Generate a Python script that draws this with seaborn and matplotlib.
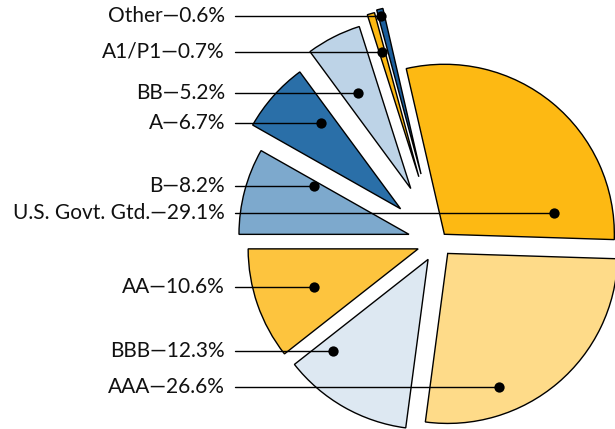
import matplotlib
matplotlib.use("Agg")
import matplotlib.pyplot as plt
import seaborn as sns
import numpy as np

# ---- data ----
categories = ["U.S. Govt. Gtd.", "Other", "A1/P1", "BB", "A", "B", "AA", "BBB", "AAA"]
shares = [29.1, 0.6, 0.7, 5.2, 6.7, 8.2, 10.6, 12.3, 26.6]
labels = [f"{c}\u2014{v}%" for c, v in zip(categories, shares)]

# ---- style ----
colors = ["#FDB913", "#1B5E9C", "#FDB913", "#BDD3E7", "#2A6FA8",
          "#7DA9CD", "#FDC43E", "#DDE8F2", "#FEDB89"]
explode = [10, 70, 68, 60, 50, 30, 21, 20, 15]
dot_frac = [0.122, 0.5, 0.5, 0.60, 0.27, 0.085, 0.53, 0.13, 0.30]
dot_rad = [0.657, 0.96, 0.765, 0.64, 0.69, 0.63, 0.65, 0.78, 0.84]

sns.set_theme(style="white")
plt.rcParams["font.family"] = ["Lato", "DejaVu Sans"]

fig = plt.figure(figsize=(6.15, 4.29), dpi=100)
ax = fig.add_axes([0, 0, 1, 1])
wedges, _ = ax.pie(shares, explode=explode, colors=colors, startangle=-1.8,
                   counterclock=True, center=(438, 187), radius=170,
                   wedgeprops=dict(edgecolor="black", linewidth=1.0))
ax.set_xlim(0, 615)
ax.set_ylim(0, 429)
ax.set_aspect("equal")
ax.axis("off")

for w, lab, f, r in zip(wedges, labels, dot_frac, dot_rad):
    th = np.deg2rad(w.theta1 + f * (w.theta2 - w.theta1))
    cx, cy = w.center
    px = cx + r * w.r * np.cos(th)
    py = cy + r * w.r * np.sin(th)
    ax.plot([235, px], [py, py], color="black", lw=1.0, zorder=5)
    ax.scatter([px], [py], s=55, color="black", zorder=6, linewidths=0)
    ax.text(225, py, lab, ha="right", va="center", fontsize=15, color="#111111")

fig.savefig("out.png", dpi=100)
